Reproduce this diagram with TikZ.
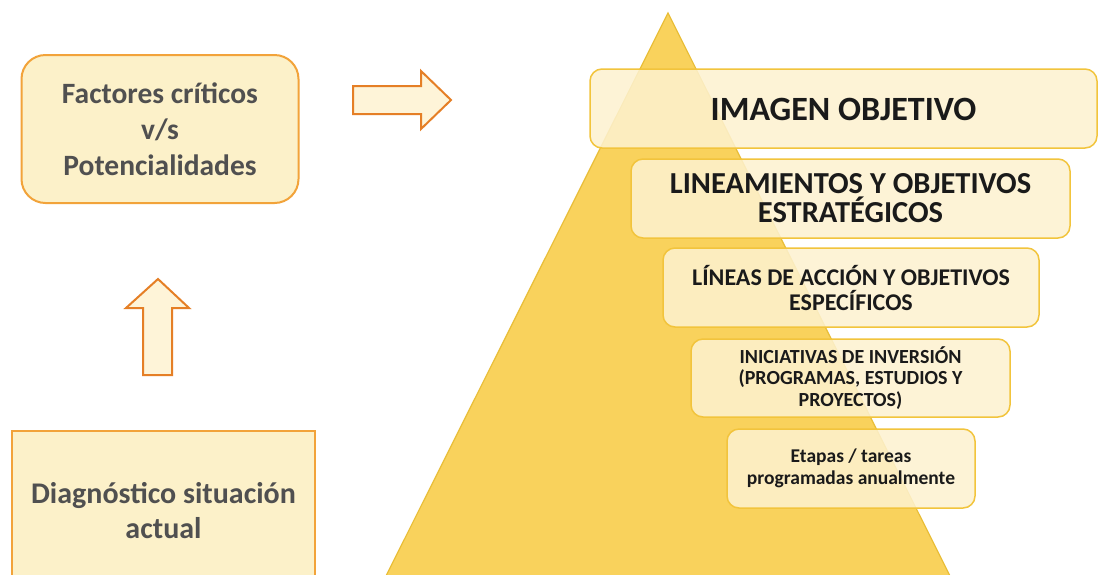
\documentclass[tikz,border=0pt]{standalone}
\usepackage{fontspec}
\setmainfont{Carlito}
\definecolor{trifill}{HTML}{F9D25C}
\definecolor{tridraw}{HTML}{E9BE38}
\definecolor{pfill}{HTML}{FDF2D0}
\definecolor{pdraw}{HTML}{F2C43C}
\definecolor{lfill}{HTML}{FCF1C9}
\definecolor{ldraw}{HTML}{F2A33A}
\definecolor{afill}{HTML}{FEF4D8}
\definecolor{adraw}{HTML}{E57F26}
\definecolor{ltext}{HTML}{505050}
\definecolor{ptext}{HTML}{1A1A1A}
\newcommand{\fs}[2]{\fontsize{#1}{#2}\selectfont}
\tikzset{
  pbox/.style={draw=pdraw, line width=1.5pt, fill=pfill, fill opacity=0.86, text opacity=1,
    rounded corners=12pt, align=center, text=ptext, inner sep=0pt},
  lbox/.style={draw=ldraw, line width=2pt, fill=lfill, align=center, text=ltext, inner sep=0pt},
  blockarrow/.style={draw=adraw, line width=2pt, fill=afill, line join=miter},
}
\begin{document}
\begin{tikzpicture}[x=1pt,y=-1pt]
\useasboundingbox (0,0) rectangle (1099,574);
\clip (0,0) rectangle (1099,574);
\fill[white] (0,0) rectangle (1099,574);
% pyramid
\filldraw[fill=trifill, draw=tridraw, line width=1.2pt] (668,13) -- (950,576) -- (386,576) -- cycle;
% pyramid boxes
\node[pbox, minimum width=507pt, minimum height=79pt, font=\bfseries\fs{34}{38}, text depth=1pt] (img) at (843.5,108.5) {\raisebox{-3pt}{IMAGEN OBJETIVO}};
\node[pbox, minimum width=439pt, minimum height=79pt, font=\bfseries\fs{30.5}{30}] (lin) at (850.5,198.5) {\raisebox{-2pt}{LINEAMIENTOS Y OBJETIVOS}\\\raisebox{-1pt}{ESTRATÉGICOS}};
\node[pbox, minimum width=376pt, minimum height=79pt, font=\bfseries\fs{24}{25}] (lac) at (851,287.5) {LÍNEAS DE ACCIÓN Y OBJETIVOS\\ESPECÍFICOS};
\node[pbox, minimum width=319pt, minimum height=78pt, font=\bfseries\fs{20}{21.5}] (ini) at (850.5,378) {INICIATIVAS DE INVERSIÓN\\(PROGRAMAS, ESTUDIOS Y\\PROYECTOS)};
\node[pbox, minimum width=248pt, minimum height=79pt, font=\bfseries\fs{19.5}{22}] (eta) at (851,468.5) {Etapas / tareas\\programadas anualmente};
% left boxes
\node[lbox, rounded corners=24pt, minimum width=277pt, minimum height=148pt, font=\bfseries\fs{29.5}{36}] (fac) at (160,129) {Factores críticos\\v/s\\Potencialidades};
\node[lbox, minimum width=303pt, minimum height=160pt, font=\bfseries\fs{30}{35}] (dia) at (163.5,511) {Diagnóstico situación\\actual};
% block arrows
\filldraw[blockarrow] (353,86) -- (421,86) -- (421,71) -- (451,100) -- (421,129) -- (421,114) -- (353,114) -- cycle;
\filldraw[blockarrow] (158,279) -- (189,308) -- (172,308) -- (172,375) -- (143,375) -- (143,308) -- (126,308) -- cycle;
\end{tikzpicture}
\end{document}
